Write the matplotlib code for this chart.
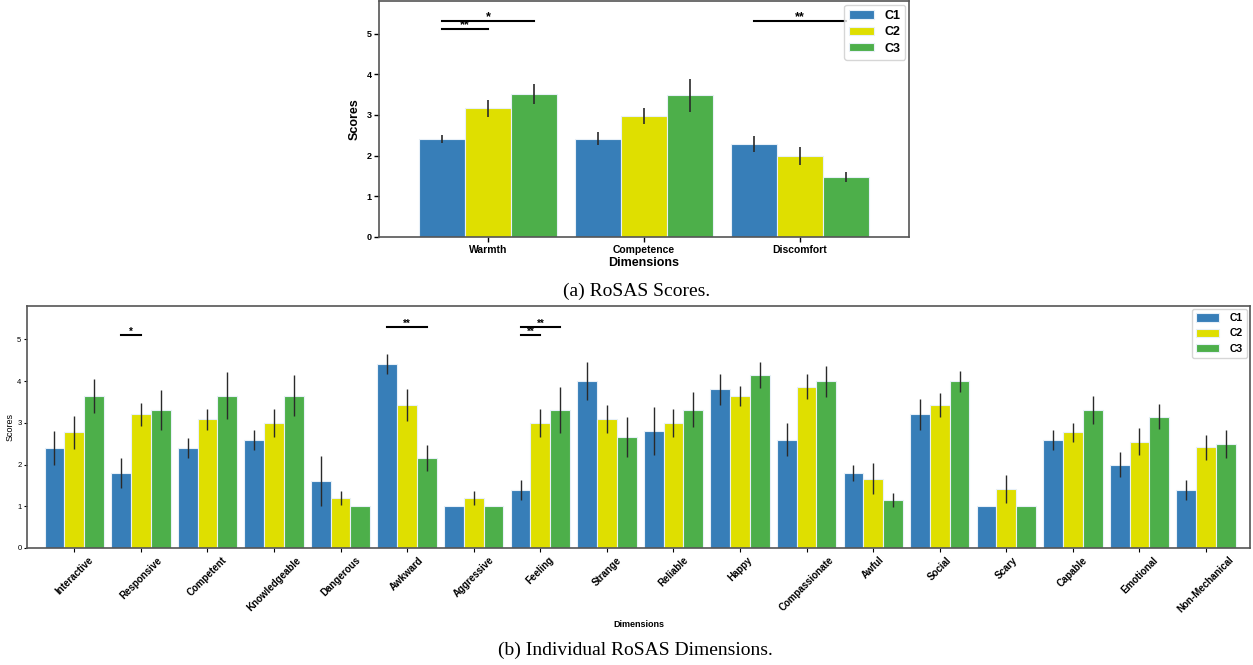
import numpy as np
import matplotlib
matplotlib.use('Agg')
import matplotlib.pyplot as plt

plt.rcParams['font.family'] = ['Liberation Sans', 'DejaVu Sans']

conditions = ['C1', 'C2', 'C3']
colors = ['#377eb8', '#dfdf00', '#4daf4a']

# (a) RoSAS scores
rosas_dims = ['Warmth', 'Competence', 'Discomfort']
rosas_mean = [[2.40, 2.42, 2.28],
              [3.16, 2.97, 2.00],
              [3.51, 3.48, 1.47]]
rosas_err = [[0.10, 0.15, 0.20],
             [0.20, 0.20, 0.22],
             [0.25, 0.40, 0.13]]
# (dimension index, cond a, cond b, height, stars)
rosas_sig = [(0, 0, 1, 5.1, '**'), (0, 0, 2, 5.3, '*'), (2, 0, 2, 5.3, '**')]

# (b) individual items
items = ['Interactive', 'Responsive', 'Competent', 'Knowledgeable', 'Dangerous',
         'Awkward', 'Aggressive', 'Feeling', 'Strange', 'Reliable', 'Happy',
         'Compassionate', 'Awful', 'Social', 'Scary', 'Capable', 'Emotional',
         'Non-Mechanical']
item_mean = [
    [2.4, 1.8, 2.4, 2.6, 1.6, 4.4, 1.0, 1.4, 4.0, 2.8, 3.8, 2.6, 1.8, 3.2, 1.0, 2.6, 2.0, 1.4],
    [2.77, 3.2, 3.09, 3.0, 1.2, 3.42, 1.2, 3.0, 3.09, 3.0, 3.65, 3.87, 1.66, 3.42, 1.42, 2.77, 2.55, 2.42],
    [3.65, 3.31, 3.65, 3.65, 1.0, 2.15, 1.0, 3.31, 2.66, 3.31, 4.15, 4.0, 1.16, 4.0, 1.0, 3.31, 3.15, 2.49],
]
item_err = [
    [0.40, 0.36, 0.24, 0.24, 0.60, 0.24, 0.0, 0.24, 0.45, 0.58, 0.37, 0.40, 0.20, 0.37, 0.0, 0.24, 0.31, 0.24],
    [0.40, 0.28, 0.25, 0.33, 0.16, 0.38, 0.16, 0.33, 0.34, 0.33, 0.24, 0.30, 0.37, 0.29, 0.33, 0.22, 0.33, 0.30],
    [0.41, 0.48, 0.56, 0.49, 0.0, 0.31, 0.0, 0.56, 0.49, 0.42, 0.31, 0.37, 0.17, 0.25, 0.0, 0.33, 0.30, 0.34],
]
item_sig = [(1, 0, 1, 5.1, '*'), (5, 0, 2, 5.3, '**'), (7, 0, 1, 5.1, '**'), (7, 0, 2, 5.3, '**')]


def grouped_bars(ax, labels, means, errs, sigs, width, elw, star_size):
    x = np.arange(len(labels))
    for k in range(3):
        xs = x + (k - 1) * width
        e = np.array(errs[k])
        ax.bar(xs, means[k], width, color=colors[k], edgecolor='#e8f0f8',
               linewidth=0.8, label=conditions[k], zorder=2)
        ax.errorbar(xs[e > 0], np.array(means[k])[e > 0], yerr=e[e > 0],
                    fmt='none', ecolor='#2a2a2a', elinewidth=elw, capsize=0, zorder=3)
    for d, a, b, h, s in sigs:
        x1 = d + (a - 1) * width
        x2 = d + (b - 1) * width
        ax.plot([x1, x2], [h, h], color='black', lw=1.5, zorder=1)
        ax.text((x1 + x2) / 2, h - 0.05, s, ha='center', va='bottom',
                fontsize=star_size, fontweight='bold')
    ax.set_xticks(x)
    ax.set_ylim(0, 5.8)
    for sp in ax.spines.values():
        sp.set_color('#555555')
        sp.set_linewidth(1.2)
    return x


fig = plt.figure(figsize=(12.53, 6.65), dpi=100)

# top chart
ax1 = fig.add_axes([379 / 1253, 1 - 237 / 665, 530 / 1253, 236 / 665])
grouped_bars(ax1, rosas_dims, rosas_mean, rosas_err, rosas_sig, 0.295, 1.2, 9)
ax1.set_xlim(-0.7, 2.7)
ax1.set_xticklabels(rosas_dims, fontsize=7.5, fontweight='bold')
ax1.set_yticks(range(6))
ax1.tick_params(axis='y', labelsize=6.5, width=1, length=3.5, pad=2)
ax1.tick_params(axis='x', width=1, length=3.5, pad=2)
for t in ax1.get_yticklabels():
    t.set_fontweight('bold')
ax1.set_xlabel('Dimensions', fontsize=9, fontweight='bold', labelpad=2)
ax1.set_ylabel('Scores', fontsize=9, fontweight='bold', labelpad=4)
ax1.legend(loc='upper right', prop={'size': 9, 'weight': 'bold'}, frameon=True,
           handlelength=2.0, handleheight=0.65, labelspacing=0.35,
           borderaxespad=0.3, handletextpad=0.8)

# bottom chart
ax2 = fig.add_axes([27 / 1253, 1 - 548 / 665, 1223 / 1253, 242 / 665])
grouped_bars(ax2, items, item_mean, item_err, item_sig, 0.297, 1.0, 7)
ax2.set_xlim(-0.71, 17.66)
ax2.set_xticklabels(items, fontsize=7, fontweight='bold', rotation=45,
                    ha='center', rotation_mode='default')
ax2.set_yticks(range(6))
ax2.tick_params(axis='y', labelsize=5.5, width=0.8, length=2.5, pad=1.5)
ax2.tick_params(axis='x', width=0.8, length=3, pad=2)
ax2.set_xlabel('Dimensions', fontsize=6.5, fontweight='bold', labelpad=4)
ax2.set_ylabel('Scores', fontsize=6.5, labelpad=2)
ax2.legend(loc='upper right', prop={'size': 7.5, 'weight': 'bold'}, frameon=True,
           handlelength=2.2, handleheight=0.9, borderaxespad=0.3, handletextpad=1.0)

fig.text(0.508, 1 - 291 / 665, '(a) RoSAS Scores.', ha='center', va='center',
         fontsize=14, family='Liberation Serif')
fig.text(0.507, 1 - 650 / 665, '(b) Individual RoSAS Dimensions.', ha='center',
         va='center', fontsize=14, family='Liberation Serif')

fig.savefig('out.png', dpi=100)
